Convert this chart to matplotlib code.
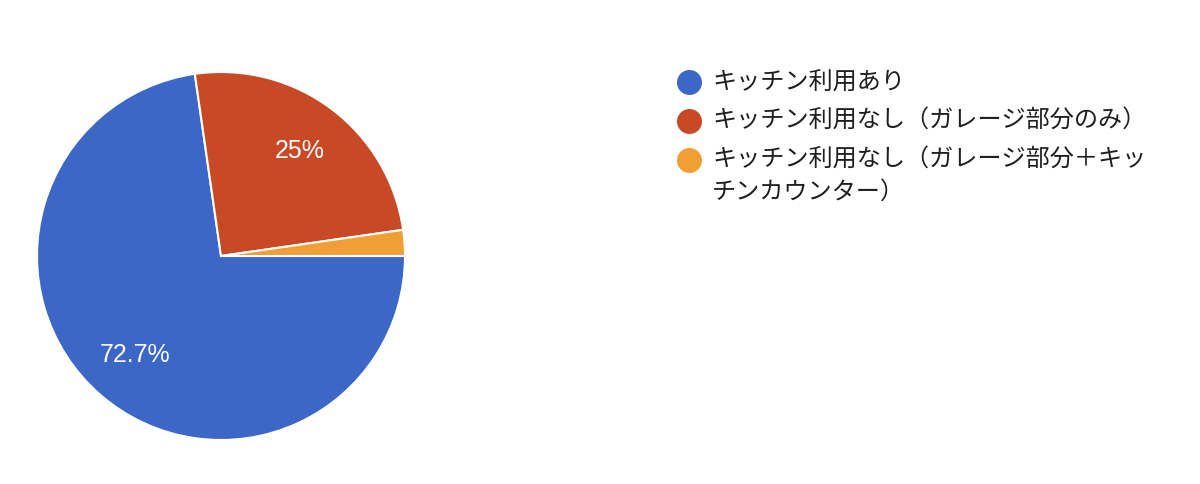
import matplotlib.pyplot as plt

plt.rcParams['font.family'] = ['Noto Sans CJK JP', 'DejaVu Sans']

# 回答データ（件数）
labels = ['キッチン利用あり',
          'キッチン利用なし（ガレージ部分のみ）',
          'キッチン利用なし（ガレージ部分＋キッチンカウンター）']
counts = [32, 11, 1]
colors = ['#3c67c6', '#c84926', '#ef9f35']

W, H = 1200, 484
fig = plt.figure(figsize=(W / 100, H / 100), dpi=100)

# 円グラフ（中心 221,256 / 半径 184 px）
cx, cy, r = 221, 256, 184
ax = fig.add_axes([(cx - r) / W, (H - cy - r) / H, 2 * r / W, 2 * r / H])


def fmt(p):
    if p < 5:
        return ''
    s = '%.1f' % p
    if s.endswith('.0'):
        s = s[:-2]
    return s + '%'


wedges, texts, autotexts = ax.pie(
    counts, colors=colors, startangle=0, counterclock=False,
    autopct=fmt, pctdistance=0.71, radius=1,
    wedgeprops=dict(edgecolor='white', linewidth=1.5),
    textprops=dict(color='white', fontsize=18, family=['Liberation Sans', 'DejaVu Sans']))
ax.set_xlim(-1.0, 1.0)
ax.set_ylim(-1.0, 1.0)
ax.set_aspect('equal')

# 凡例（手書き配置）
lax = fig.add_axes([0, 0, 1, 1])
lax.set_xlim(0, W)
lax.set_ylim(H, 0)
lax.axis('off')

wrap = 18
row_y = 82
for lab, col in zip(labels, colors):
    lines = [lab[i:i + wrap] for i in range(0, len(lab), wrap)]
    lax.plot([689], [row_y], marker='o', markersize=17, color=col, linestyle='none')
    for j, ln in enumerate(lines):
        lax.text(712, row_y + j * 32, ln, fontsize=17.4, color='#1f1f1f',
                 va='center', ha='left')
    row_y += 39 + (len(lines) - 1) * 32

fig.savefig('out.png', dpi=100, facecolor='white')
